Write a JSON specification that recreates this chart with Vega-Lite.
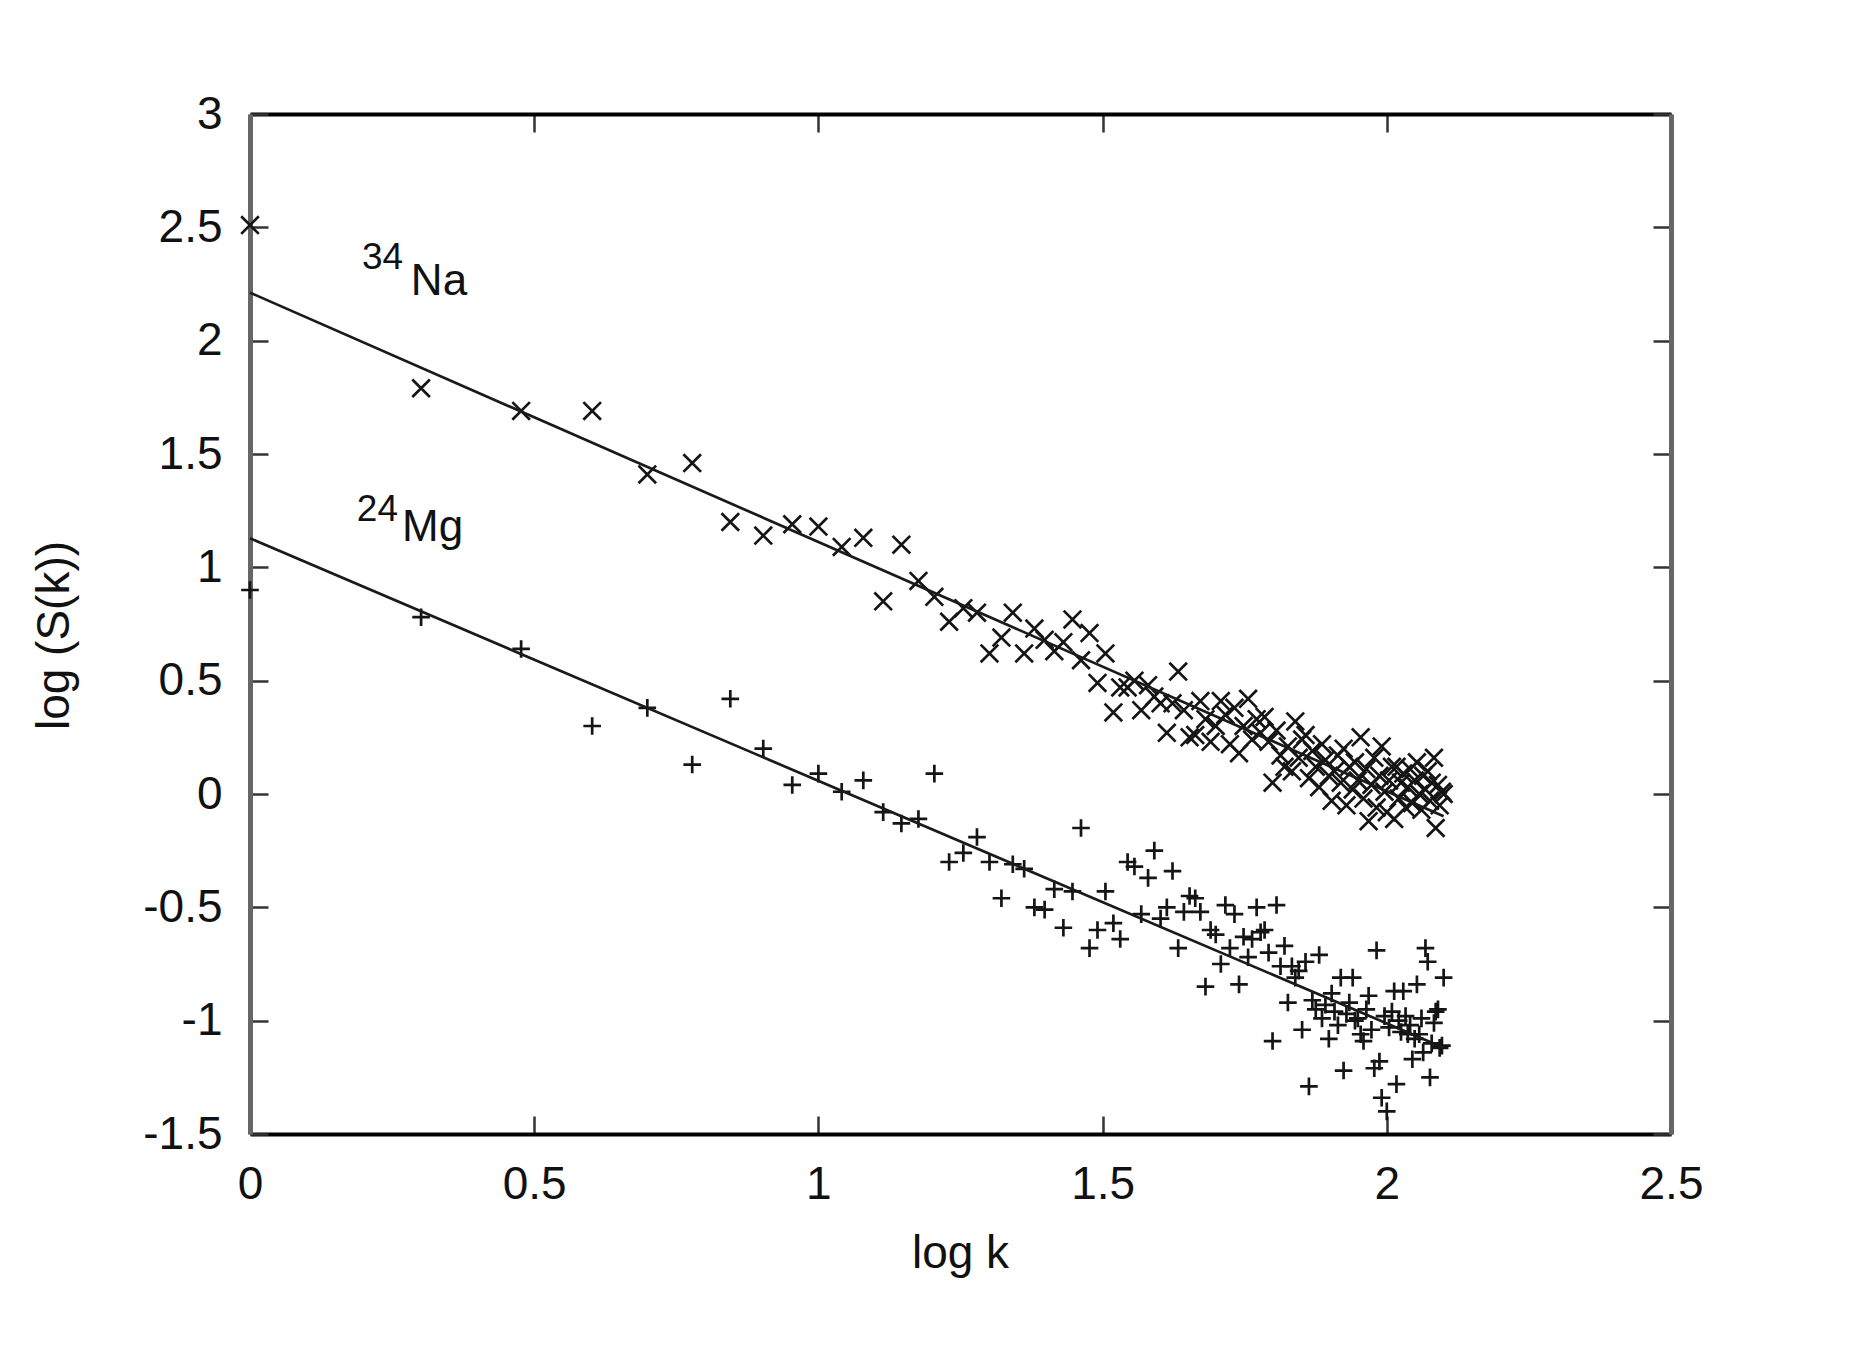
{
  "$schema": "https://vega.github.io/schema/vega-lite/v6.json",
  "width": 1421,
  "height": 1020,
  "autosize": {"type": "none"},
  "padding": {"left": 250, "top": 114, "right": 192, "bottom": 224},
  "background": "white",
  "config": {
    "view": {"stroke": null},
    "font": "Liberation Sans",
    "axis": {"grid": false, "labelFlush": false, "labelOverlap": false, "labelFont": "Liberation Sans", "titleFont": "Liberation Sans", "labelColor": "#111", "titleColor": "#111", "titleFontWeight": "normal"}
  },
  "datasets": {
    "points": [
      {"series":"Na","logk":0,"logS":2.51},{"series":"Na","logk":0.301,"logS":1.79},{"series":"Na","logk":0.477,"logS":1.69},{"series":"Na","logk":0.602,"logS":1.69},{"series":"Na","logk":0.699,"logS":1.41},{"series":"Na","logk":0.778,"logS":1.46},{"series":"Na","logk":0.845,"logS":1.20},{"series":"Na","logk":0.903,"logS":1.14},{"series":"Na","logk":0.954,"logS":1.19},{"series":"Na","logk":1.0,"logS":1.18},
      {"series":"Na","logk":1.041,"logS":1.09},{"series":"Na","logk":1.079,"logS":1.13},{"series":"Na","logk":1.114,"logS":0.85},{"series":"Na","logk":1.146,"logS":1.10},{"series":"Na","logk":1.176,"logS":0.94},{"series":"Na","logk":1.204,"logS":0.87},{"series":"Na","logk":1.230,"logS":0.76},{"series":"Na","logk":1.255,"logS":0.82},{"series":"Na","logk":1.279,"logS":0.80},{"series":"Na","logk":1.301,"logS":0.62},
      {"series":"Na","logk":1.322,"logS":0.69},{"series":"Na","logk":1.342,"logS":0.80},{"series":"Na","logk":1.362,"logS":0.62},{"series":"Na","logk":1.380,"logS":0.73},{"series":"Na","logk":1.398,"logS":0.68},{"series":"Na","logk":1.415,"logS":0.63},{"series":"Na","logk":1.431,"logS":0.67},{"series":"Na","logk":1.447,"logS":0.77},{"series":"Na","logk":1.462,"logS":0.59},{"series":"Na","logk":1.477,"logS":0.71},
      {"series":"Na","logk":1.491,"logS":0.49},{"series":"Na","logk":1.505,"logS":0.62},{"series":"Na","logk":1.519,"logS":0.36},{"series":"Na","logk":1.531,"logS":0.47},{"series":"Na","logk":1.544,"logS":0.47},{"series":"Na","logk":1.556,"logS":0.50},{"series":"Na","logk":1.568,"logS":0.37},{"series":"Na","logk":1.580,"logS":0.48},{"series":"Na","logk":1.591,"logS":0.43},{"series":"Na","logk":1.602,"logS":0.40},
      {"series":"Na","logk":1.613,"logS":0.27},{"series":"Na","logk":1.623,"logS":0.40},{"series":"Na","logk":1.633,"logS":0.54},{"series":"Na","logk":1.643,"logS":0.37},{"series":"Na","logk":1.653,"logS":0.25},{"series":"Na","logk":1.663,"logS":0.26},{"series":"Na","logk":1.672,"logS":0.41},{"series":"Na","logk":1.681,"logS":0.33},{"series":"Na","logk":1.690,"logS":0.23},{"series":"Na","logk":1.699,"logS":0.30},
      {"series":"Na","logk":1.708,"logS":0.41},{"series":"Na","logk":1.716,"logS":0.35},{"series":"Na","logk":1.724,"logS":0.22},{"series":"Na","logk":1.732,"logS":0.38},{"series":"Na","logk":1.740,"logS":0.18},{"series":"Na","logk":1.748,"logS":0.30},{"series":"Na","logk":1.756,"logS":0.42},{"series":"Na","logk":1.763,"logS":0.24},{"series":"Na","logk":1.771,"logS":0.33},{"series":"Na","logk":1.778,"logS":0.27},
      {"series":"Na","logk":1.785,"logS":0.34},{"series":"Na","logk":1.792,"logS":0.23},{"series":"Na","logk":1.799,"logS":0.05},{"series":"Na","logk":1.806,"logS":0.28},{"series":"Na","logk":1.813,"logS":0.17},{"series":"Na","logk":1.820,"logS":0.12},{"series":"Na","logk":1.826,"logS":0.21},{"series":"Na","logk":1.833,"logS":0.10},{"series":"Na","logk":1.839,"logS":0.32},{"series":"Na","logk":1.845,"logS":0.16},
      {"series":"Na","logk":1.851,"logS":0.24},{"series":"Na","logk":1.857,"logS":0.26},{"series":"Na","logk":1.863,"logS":0.07},{"series":"Na","logk":1.869,"logS":0.19},{"series":"Na","logk":1.875,"logS":0.12},{"series":"Na","logk":1.881,"logS":0.03},{"series":"Na","logk":1.886,"logS":0.22},{"series":"Na","logk":1.892,"logS":0.15},{"series":"Na","logk":1.898,"logS":0.08},{"series":"Na","logk":1.903,"logS":-0.03},
      {"series":"Na","logk":1.908,"logS":0.10},{"series":"Na","logk":1.914,"logS":0.17},{"series":"Na","logk":1.919,"logS":0.05},{"series":"Na","logk":1.924,"logS":0.20},{"series":"Na","logk":1.929,"logS":-0.05},{"series":"Na","logk":1.934,"logS":0.12},{"series":"Na","logk":1.940,"logS":0.02},{"series":"Na","logk":1.944,"logS":0.14},{"series":"Na","logk":1.949,"logS":0.06},{"series":"Na","logk":1.954,"logS":0.25},
      {"series":"Na","logk":1.959,"logS":-0.02},{"series":"Na","logk":1.964,"logS":0.11},{"series":"Na","logk":1.968,"logS":-0.12},{"series":"Na","logk":1.973,"logS":0.04},{"series":"Na","logk":1.978,"logS":0.16},{"series":"Na","logk":1.982,"logS":-0.06},{"series":"Na","logk":1.987,"logS":0.08},{"series":"Na","logk":1.991,"logS":0.21},{"series":"Na","logk":1.996,"logS":0.01},{"series":"Na","logk":2.000,"logS":-0.08},
      {"series":"Na","logk":2.004,"logS":0.06},{"series":"Na","logk":2.009,"logS":0.12},{"series":"Na","logk":2.013,"logS":-0.11},{"series":"Na","logk":2.017,"logS":0.12},{"series":"Na","logk":2.021,"logS":-0.02},{"series":"Na","logk":2.025,"logS":0.05},{"series":"Na","logk":2.029,"logS":0.09},{"series":"Na","logk":2.033,"logS":-0.06},{"series":"Na","logk":2.037,"logS":0.03},{"series":"Na","logk":2.041,"logS":0.11},
      {"series":"Na","logk":2.045,"logS":-0.04},{"series":"Na","logk":2.049,"logS":0.06},{"series":"Na","logk":2.053,"logS":0.14},{"series":"Na","logk":2.057,"logS":0.00},{"series":"Na","logk":2.061,"logS":-0.07},{"series":"Na","logk":2.064,"logS":0.08},{"series":"Na","logk":2.068,"logS":0.02},{"series":"Na","logk":2.072,"logS":0.10},{"series":"Na","logk":2.076,"logS":-0.03},{"series":"Na","logk":2.079,"logS":0.05},
      {"series":"Na","logk":2.083,"logS":0.16},{"series":"Na","logk":2.086,"logS":-0.15},{"series":"Na","logk":2.090,"logS":0.04},{"series":"Na","logk":2.093,"logS":-0.05},{"series":"Na","logk":2.097,"logS":0.01},{"series":"Na","logk":2.100,"logS":0.00},
      {"series":"Mg","logk":0,"logS":0.90},{"series":"Mg","logk":0.301,"logS":0.78},{"series":"Mg","logk":0.477,"logS":0.64},{"series":"Mg","logk":0.602,"logS":0.30},{"series":"Mg","logk":0.699,"logS":0.38},{"series":"Mg","logk":0.778,"logS":0.13},{"series":"Mg","logk":0.845,"logS":0.42},{"series":"Mg","logk":0.903,"logS":0.20},{"series":"Mg","logk":0.954,"logS":0.04},{"series":"Mg","logk":1.0,"logS":0.09},
      {"series":"Mg","logk":1.041,"logS":0.01},{"series":"Mg","logk":1.079,"logS":0.06},{"series":"Mg","logk":1.114,"logS":-0.08},{"series":"Mg","logk":1.146,"logS":-0.13},{"series":"Mg","logk":1.176,"logS":-0.11},{"series":"Mg","logk":1.204,"logS":0.09},{"series":"Mg","logk":1.230,"logS":-0.30},{"series":"Mg","logk":1.255,"logS":-0.26},{"series":"Mg","logk":1.279,"logS":-0.19},{"series":"Mg","logk":1.301,"logS":-0.30},
      {"series":"Mg","logk":1.322,"logS":-0.46},{"series":"Mg","logk":1.342,"logS":-0.31},{"series":"Mg","logk":1.362,"logS":-0.33},{"series":"Mg","logk":1.380,"logS":-0.50},{"series":"Mg","logk":1.398,"logS":-0.51},{"series":"Mg","logk":1.415,"logS":-0.42},{"series":"Mg","logk":1.431,"logS":-0.59},{"series":"Mg","logk":1.447,"logS":-0.43},{"series":"Mg","logk":1.462,"logS":-0.15},{"series":"Mg","logk":1.477,"logS":-0.68},
      {"series":"Mg","logk":1.491,"logS":-0.60},{"series":"Mg","logk":1.505,"logS":-0.43},{"series":"Mg","logk":1.519,"logS":-0.57},{"series":"Mg","logk":1.531,"logS":-0.64},{"series":"Mg","logk":1.544,"logS":-0.30},{"series":"Mg","logk":1.556,"logS":-0.32},{"series":"Mg","logk":1.568,"logS":-0.53},{"series":"Mg","logk":1.580,"logS":-0.37},{"series":"Mg","logk":1.591,"logS":-0.25},{"series":"Mg","logk":1.602,"logS":-0.55},
      {"series":"Mg","logk":1.613,"logS":-0.50},{"series":"Mg","logk":1.623,"logS":-0.34},{"series":"Mg","logk":1.633,"logS":-0.68},{"series":"Mg","logk":1.643,"logS":-0.52},{"series":"Mg","logk":1.653,"logS":-0.45},{"series":"Mg","logk":1.663,"logS":-0.46},{"series":"Mg","logk":1.672,"logS":-0.52},{"series":"Mg","logk":1.681,"logS":-0.85},{"series":"Mg","logk":1.690,"logS":-0.60},{"series":"Mg","logk":1.699,"logS":-0.62},
      {"series":"Mg","logk":1.708,"logS":-0.75},{"series":"Mg","logk":1.716,"logS":-0.49},{"series":"Mg","logk":1.724,"logS":-0.68},{"series":"Mg","logk":1.732,"logS":-0.53},{"series":"Mg","logk":1.740,"logS":-0.84},{"series":"Mg","logk":1.748,"logS":-0.63},{"series":"Mg","logk":1.756,"logS":-0.72},{"series":"Mg","logk":1.763,"logS":-0.64},{"series":"Mg","logk":1.771,"logS":-0.50},{"series":"Mg","logk":1.778,"logS":-0.61},
      {"series":"Mg","logk":1.785,"logS":-0.60},{"series":"Mg","logk":1.792,"logS":-0.70},{"series":"Mg","logk":1.799,"logS":-1.09},{"series":"Mg","logk":1.806,"logS":-0.49},{"series":"Mg","logk":1.813,"logS":-0.76},{"series":"Mg","logk":1.820,"logS":-0.67},{"series":"Mg","logk":1.826,"logS":-0.92},{"series":"Mg","logk":1.833,"logS":-0.76},{"series":"Mg","logk":1.839,"logS":-0.81},{"series":"Mg","logk":1.845,"logS":-0.78},
      {"series":"Mg","logk":1.851,"logS":-1.04},{"series":"Mg","logk":1.857,"logS":-0.74},{"series":"Mg","logk":1.863,"logS":-1.29},{"series":"Mg","logk":1.869,"logS":-0.91},{"series":"Mg","logk":1.875,"logS":-0.95},{"series":"Mg","logk":1.881,"logS":-0.71},{"series":"Mg","logk":1.886,"logS":-0.99},{"series":"Mg","logk":1.892,"logS":-0.93},{"series":"Mg","logk":1.898,"logS":-1.08},{"series":"Mg","logk":1.903,"logS":-0.88},
      {"series":"Mg","logk":1.908,"logS":-0.96},{"series":"Mg","logk":1.914,"logS":-1.02},{"series":"Mg","logk":1.919,"logS":-0.81},{"series":"Mg","logk":1.924,"logS":-1.22},{"series":"Mg","logk":1.929,"logS":-0.97},{"series":"Mg","logk":1.934,"logS":-0.92},{"series":"Mg","logk":1.940,"logS":-0.81},{"series":"Mg","logk":1.944,"logS":-1.00},{"series":"Mg","logk":1.949,"logS":-0.99},{"series":"Mg","logk":1.954,"logS":-1.06},
      {"series":"Mg","logk":1.959,"logS":-1.09},{"series":"Mg","logk":1.964,"logS":-0.95},{"series":"Mg","logk":1.968,"logS":-0.89},{"series":"Mg","logk":1.973,"logS":-1.04},{"series":"Mg","logk":1.978,"logS":-1.21},{"series":"Mg","logk":1.982,"logS":-0.69},{"series":"Mg","logk":1.987,"logS":-1.18},{"series":"Mg","logk":1.991,"logS":-1.34},{"series":"Mg","logk":1.996,"logS":-0.98},{"series":"Mg","logk":2.000,"logS":-1.40},
      {"series":"Mg","logk":2.004,"logS":-1.03},{"series":"Mg","logk":2.009,"logS":-0.96},{"series":"Mg","logk":2.013,"logS":-0.87},{"series":"Mg","logk":2.017,"logS":-1.28},{"series":"Mg","logk":2.021,"logS":-1.00},{"series":"Mg","logk":2.025,"logS":-1.05},{"series":"Mg","logk":2.029,"logS":-0.87},{"series":"Mg","logk":2.033,"logS":-0.98},{"series":"Mg","logk":2.037,"logS":-1.06},{"series":"Mg","logk":2.041,"logS":-1.02},
      {"series":"Mg","logk":2.045,"logS":-1.17},{"series":"Mg","logk":2.049,"logS":-1.08},{"series":"Mg","logk":2.053,"logS":-0.84},{"series":"Mg","logk":2.057,"logS":-1.06},{"series":"Mg","logk":2.061,"logS":-0.99},{"series":"Mg","logk":2.064,"logS":-1.14},{"series":"Mg","logk":2.068,"logS":-0.68},{"series":"Mg","logk":2.072,"logS":-0.74},{"series":"Mg","logk":2.076,"logS":-1.25},{"series":"Mg","logk":2.079,"logS":-1.10},
      {"series":"Mg","logk":2.083,"logS":-1.01},{"series":"Mg","logk":2.086,"logS":-0.96},{"series":"Mg","logk":2.090,"logS":-0.95},{"series":"Mg","logk":2.093,"logS":-1.12},{"series":"Mg","logk":2.097,"logS":-1.11},{"series":"Mg","logk":2.100,"logS":-0.81}
    ],
    "fits": [
      {"series":"Na","logk":0,"logS":2.212},{"series":"Na","logk":2.1,"logS":-0.098},
      {"series":"Mg","logk":0,"logS":1.128},{"series":"Mg","logk":2.1,"logS":-1.119}
    ],
    "names": [
      {"logk":0.283,"logS":2.2,"label":"Na"},
      {"logk":0.2675,"logS":1.117,"label":"Mg"}
    ],
    "masses": [
      {"logk":0.197,"logS":2.318,"label":"34"},
      {"logk":0.188,"logS":1.205,"label":"24"}
    ]
  },
  "layer": [
    {
      "data": {"name": "points"},
      "mark": {"type": "point", "filled": false, "opacity": 1, "strokeWidth": 2.7, "size": 310, "color": "#151515"},
      "encoding": {
        "x": {"field": "logk", "type": "quantitative", "scale": {"domain": [0, 2.5], "nice": false, "zero": false},
          "axis": {"orient": "bottom", "title": "log k", "values": [0, 0.5, 1, 1.5, 2, 2.5], "labelExpr": "'' + datum.value",
            "labelFontSize": 46, "titleFontSize": 46, "labelPadding": 46, "tickSize": -18, "tickWidth": 2.5, "tickColor": "#333",
            "domainColor": "#000", "domainWidth": 4, "titleX": 710, "titleY": 119, "titleBaseline": "middle", "titleAlign": "center"}},
        "y": {"field": "logS", "type": "quantitative", "scale": {"domain": [-1.5, 3], "nice": false, "zero": false},
          "axis": {"orient": "left", "title": "log (S(k))", "values": [-1.5, -1, -0.5, 0, 0.5, 1, 1.5, 2, 2.5, 3], "labelExpr": "'' + datum.value",
            "labelFontSize": 46, "titleFontSize": 46, "labelPadding": 46, "tickSize": -18, "tickWidth": 2.5, "tickColor": "#333",
            "domainColor": "#666", "domainWidth": 5, "titleX": -196, "titleY": 521, "titleBaseline": "middle", "titleAlign": "center", "titleAngle": -90}},
        "shape": {"field": "series", "type": "nominal",
          "scale": {"domain": ["Na", "Mg"], "range": ["M-1,-1L1,1M-1,1L1,-1", "M-1,0L1,0M0,-1L0,1"]}, "legend": null}
      }
    },
    {
      "data": {"name": "fits"},
      "mark": {"type": "line", "color": "#1a1a1a", "strokeWidth": 2.7},
      "encoding": {
        "x": {"field": "logk", "type": "quantitative", "scale": {"domain": [0, 2.5], "nice": false, "zero": false},
          "axis": {"orient": "top", "title": null, "labels": false, "values": [0, 0.5, 1, 1.5, 2, 2.5], "tickSize": -18, "tickWidth": 2.5, "tickColor": "#333", "domainColor": "#000", "domainWidth": 4}},
        "y": {"field": "logS", "type": "quantitative", "scale": {"domain": [-1.5, 3], "nice": false, "zero": false},
          "axis": {"orient": "right", "title": null, "labels": false, "values": [-1.5, -1, -0.5, 0, 0.5, 1, 1.5, 2, 2.5, 3], "tickSize": -18, "tickWidth": 2.5, "tickColor": "#333", "domainColor": "#666", "domainWidth": 5}},
        "detail": {"field": "series", "type": "nominal"}
      }
    },
    {
      "data": {"name": "names"},
      "mark": {"type": "text", "align": "left", "baseline": "alphabetic", "fontSize": 44, "font": "Liberation Sans", "color": "#111"},
      "encoding": {
        "x": {"field": "logk", "type": "quantitative", "axis": null},
        "y": {"field": "logS", "type": "quantitative", "axis": null},
        "text": {"field": "label"}
      }
    },
    {
      "data": {"name": "masses"},
      "mark": {"type": "text", "align": "left", "baseline": "alphabetic", "fontSize": 37, "font": "Liberation Sans", "color": "#111"},
      "encoding": {
        "x": {"field": "logk", "type": "quantitative", "axis": null},
        "y": {"field": "logS", "type": "quantitative", "axis": null},
        "text": {"field": "label"}
      }
    }
  ],
  "resolve": {"axis": {"x": "independent", "y": "independent"}}
}
